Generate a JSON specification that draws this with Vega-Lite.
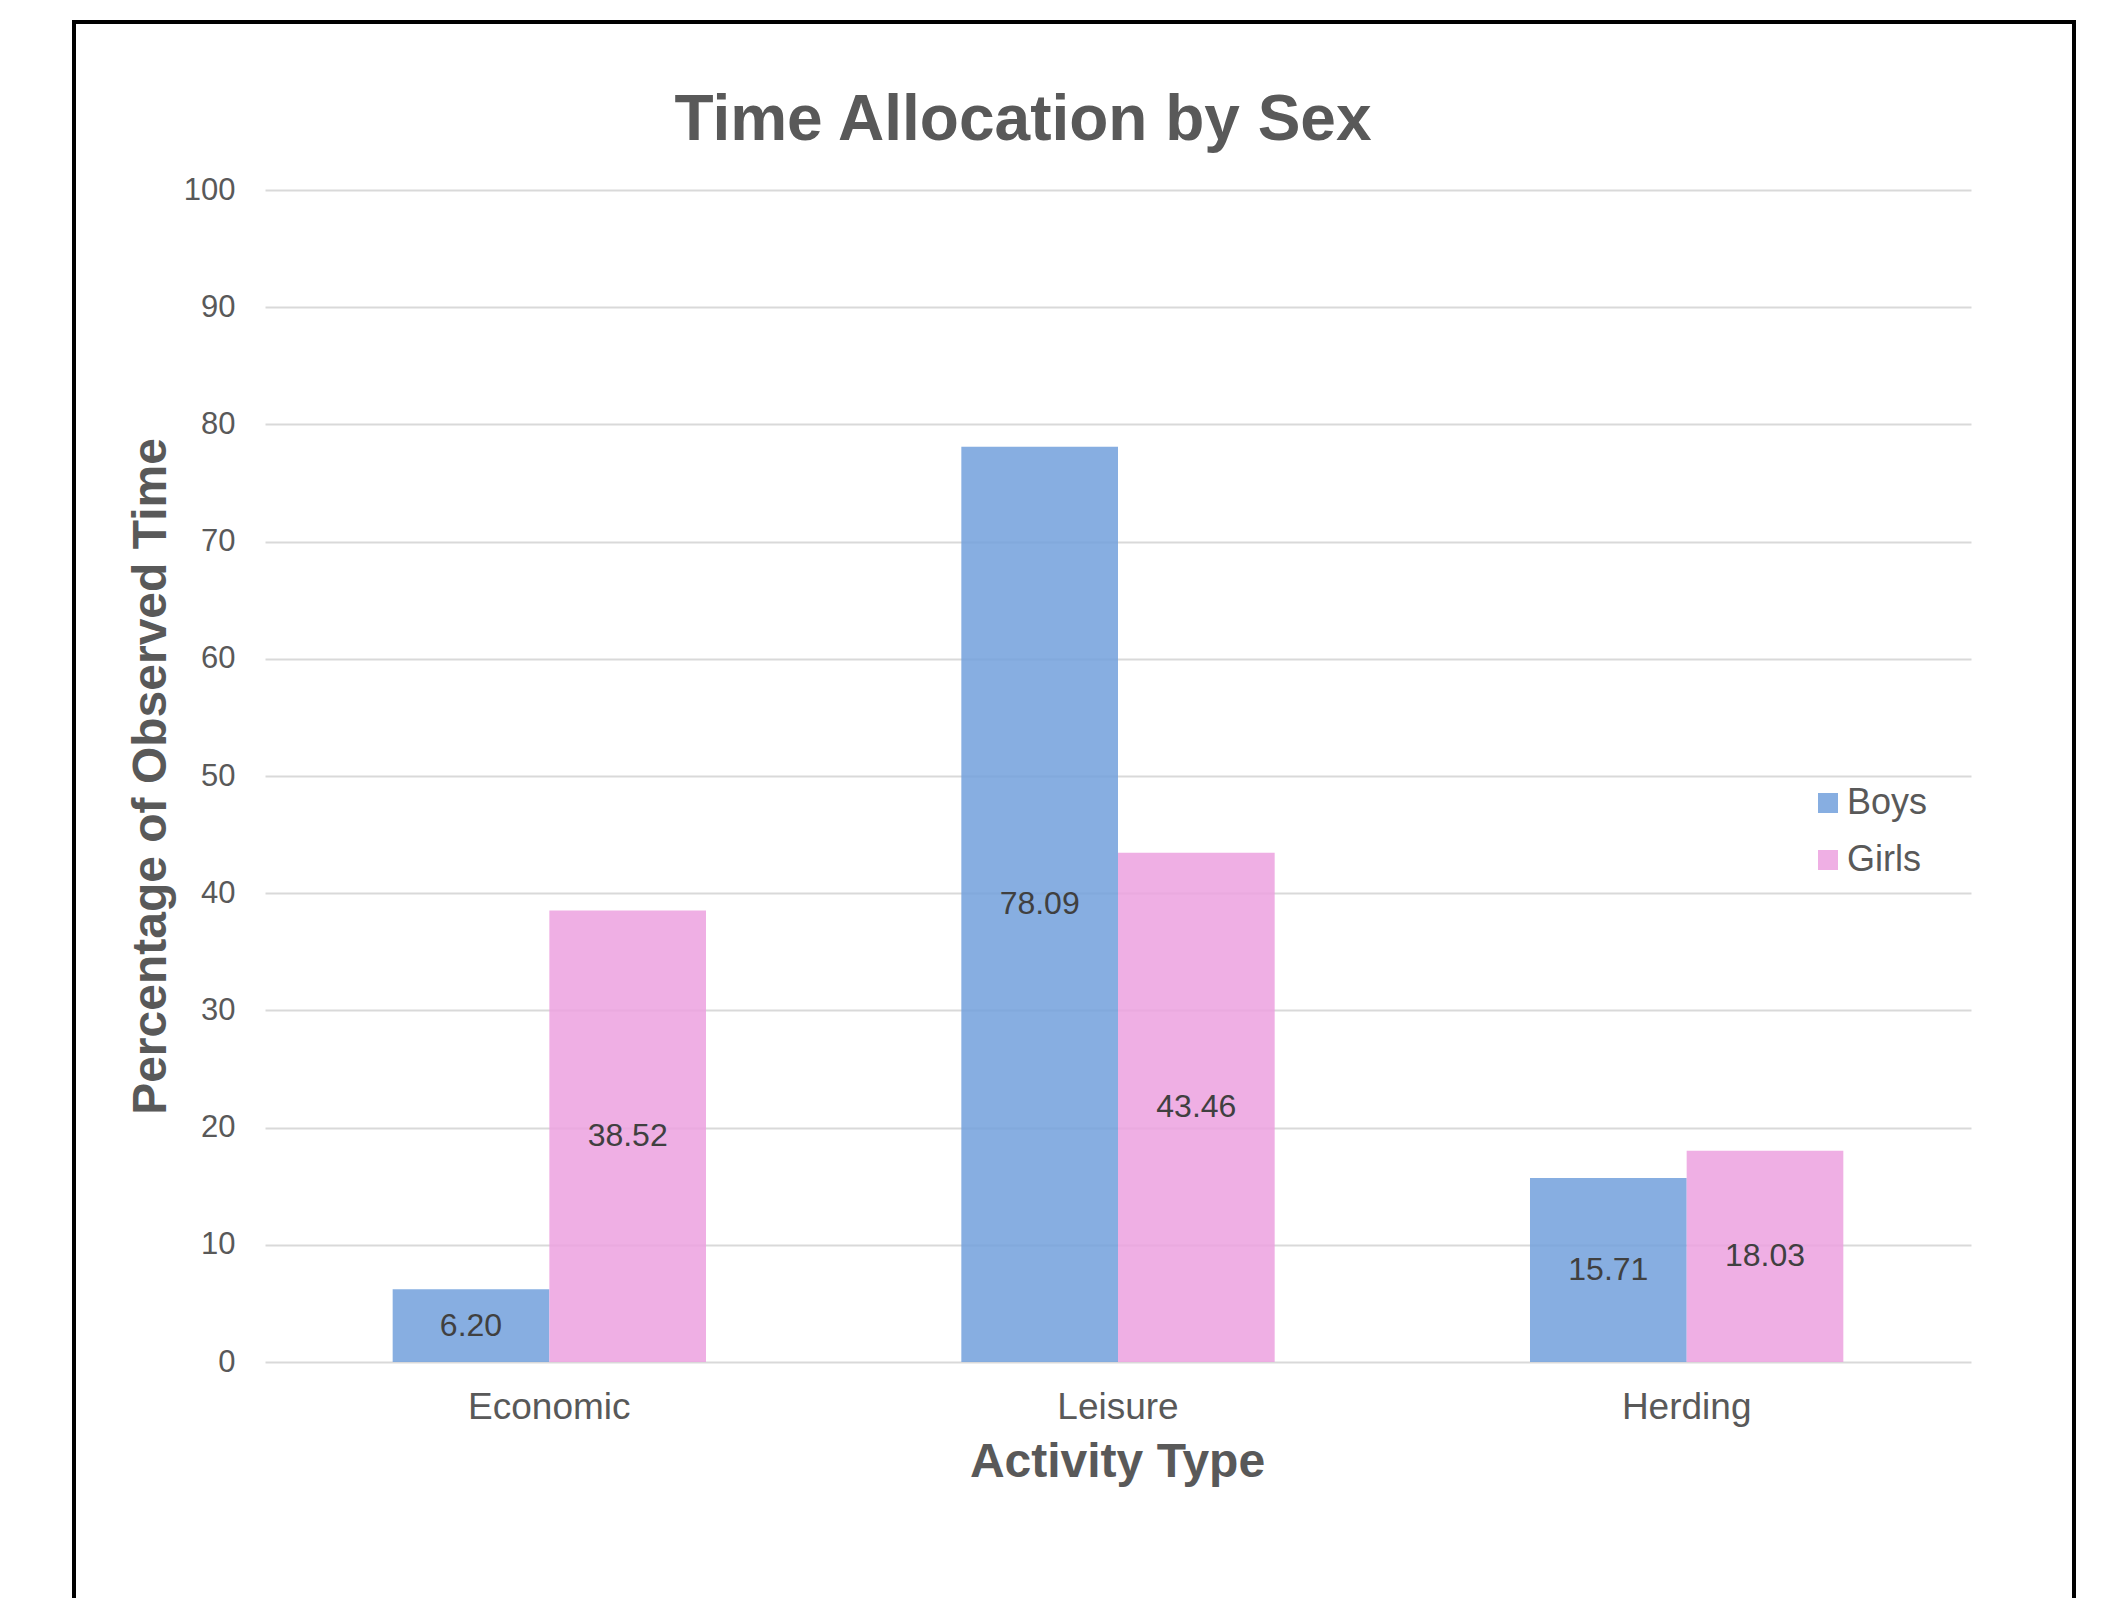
{
  "$schema": "https://vega.github.io/schema/vega-lite/v6.json",
  "width": 2000,
  "height": 1600,
  "autosize": {"type": "none"},
  "padding": {"left": 74, "top": 22, "right": 20, "bottom": 0},
  "background": "white",
  "title": {
    "text": "Time Allocation by Sex",
    "fontSize": 64,
    "fontWeight": "bold",
    "font": "Liberation Sans",
    "color": "#595959",
    "anchor": "middle",
    "frame": "group",
    "offset": 0,
    "baseline": "alphabetic",
    "dx": -51,
    "dy": 182
  },
  "data": {
    "values": [
      {"activity": "Economic", "sex": "Boys", "value": 6.20},
      {"activity": "Economic", "sex": "Girls", "value": 38.52},
      {"activity": "Leisure", "sex": "Boys", "value": 78.09},
      {"activity": "Leisure", "sex": "Girls", "value": 43.46},
      {"activity": "Herding", "sex": "Boys", "value": 15.71},
      {"activity": "Herding", "sex": "Girls", "value": 18.03}
    ]
  },
  "encoding": {
    "x": {
      "field": "activity",
      "type": "nominal",
      "sort": ["Economic", "Leisure", "Herding"],
      "scale": {"range": [191, 1897], "paddingInner": 0.449, "paddingOuter": 0.2245},
      "axis": {
        "title": "Activity Type",
        "orient": "bottom",
        "offset": -262,
        "domain": false,
        "ticks": false,
        "tickSize": 0,
        "grid": false,
        "labelAngle": 0,
        "labelAlign": "center",
        "labelFontSize": 37,
        "labelFont": "Liberation Sans",
        "labelColor": "#595959",
        "labelBaseline": "alphabetic",
        "labelPadding": 58,
        "titleFontSize": 48,
        "titleFont": "Liberation Sans",
        "titleFontWeight": "bold",
        "titleColor": "#595959",
        "titleX": 1043,
        "titleY": 116,
        "titleBaseline": "alphabetic",
        "titleAlign": "center"
      }
    },
    "xOffset": {
      "field": "sex",
      "type": "nominal",
      "sort": ["Boys", "Girls"],
      "scale": {"paddingInner": 0, "paddingOuter": 0}
    }
  },
  "layer": [
    {
      "mark": {"type": "bar", "opacity": 0.85},
      "encoding": {
        "y": {
          "field": "value",
          "type": "quantitative",
          "scale": {"domain": [0, 100], "range": [1340, 168], "nice": false},
          "axis": {
            "title": "Percentage of Observed Time",
            "orient": "left",
            "offset": -191,
            "values": [0, 10, 20, 30, 40, 50, 60, 70, 80, 90, 100],
            "domain": false,
            "ticks": false,
            "tickSize": 0,
            "grid": true,
            "gridColor": "#d9d9d9",
            "gridWidth": 2,
            "labelFontSize": 31,
            "labelFont": "Liberation Sans",
            "labelColor": "#595959",
            "labelPadding": 30,
            "titleFontSize": 48,
            "titleFont": "Liberation Sans",
            "titleFontWeight": "bold",
            "titleColor": "#595959",
            "titleX": -100,
            "titleY": 754,
            "titleAngle": -90,
            "titleBaseline": "alphabetic",
            "titleAlign": "center"
          }
        },
        "color": {
          "field": "sex",
          "type": "nominal",
          "scale": {"domain": ["Boys", "Girls"], "range": ["#72A0DC", "#ECA1DF"]},
          "legend": {
            "orient": "none",
            "legendX": 1736,
            "legendY": 763,
            "title": null,
            "symbolType": "square",
            "symbolSize": 400,
            "symbolOpacity": 0.85,
            "symbolStrokeWidth": 0,
            "labelFontSize": 36,
            "labelFont": "Liberation Sans",
            "labelColor": "#595959",
            "labelOffset": 1,
            "rowPadding": 21,
            "padding": 0
          }
        }
      }
    },
    {
      "mark": {"type": "text", "font": "Liberation Sans", "fontSize": 32, "color": "#404040", "baseline": "middle", "align": "center"},
      "encoding": {
        "y": {
          "field": "value",
          "type": "quantitative",
          "scale": {"domain": [0, 200], "range": [1340, 168], "nice": false},
          "axis": null
        },
        "text": {"field": "value", "type": "quantitative", "format": ".2f"}
      }
    }
  ],
  "resolve": {"scale": {"y": "independent"}},
  "config": {
    "view": {"stroke": "#000000", "strokeWidth": 4},
    "font": "Liberation Sans"
  }
}
